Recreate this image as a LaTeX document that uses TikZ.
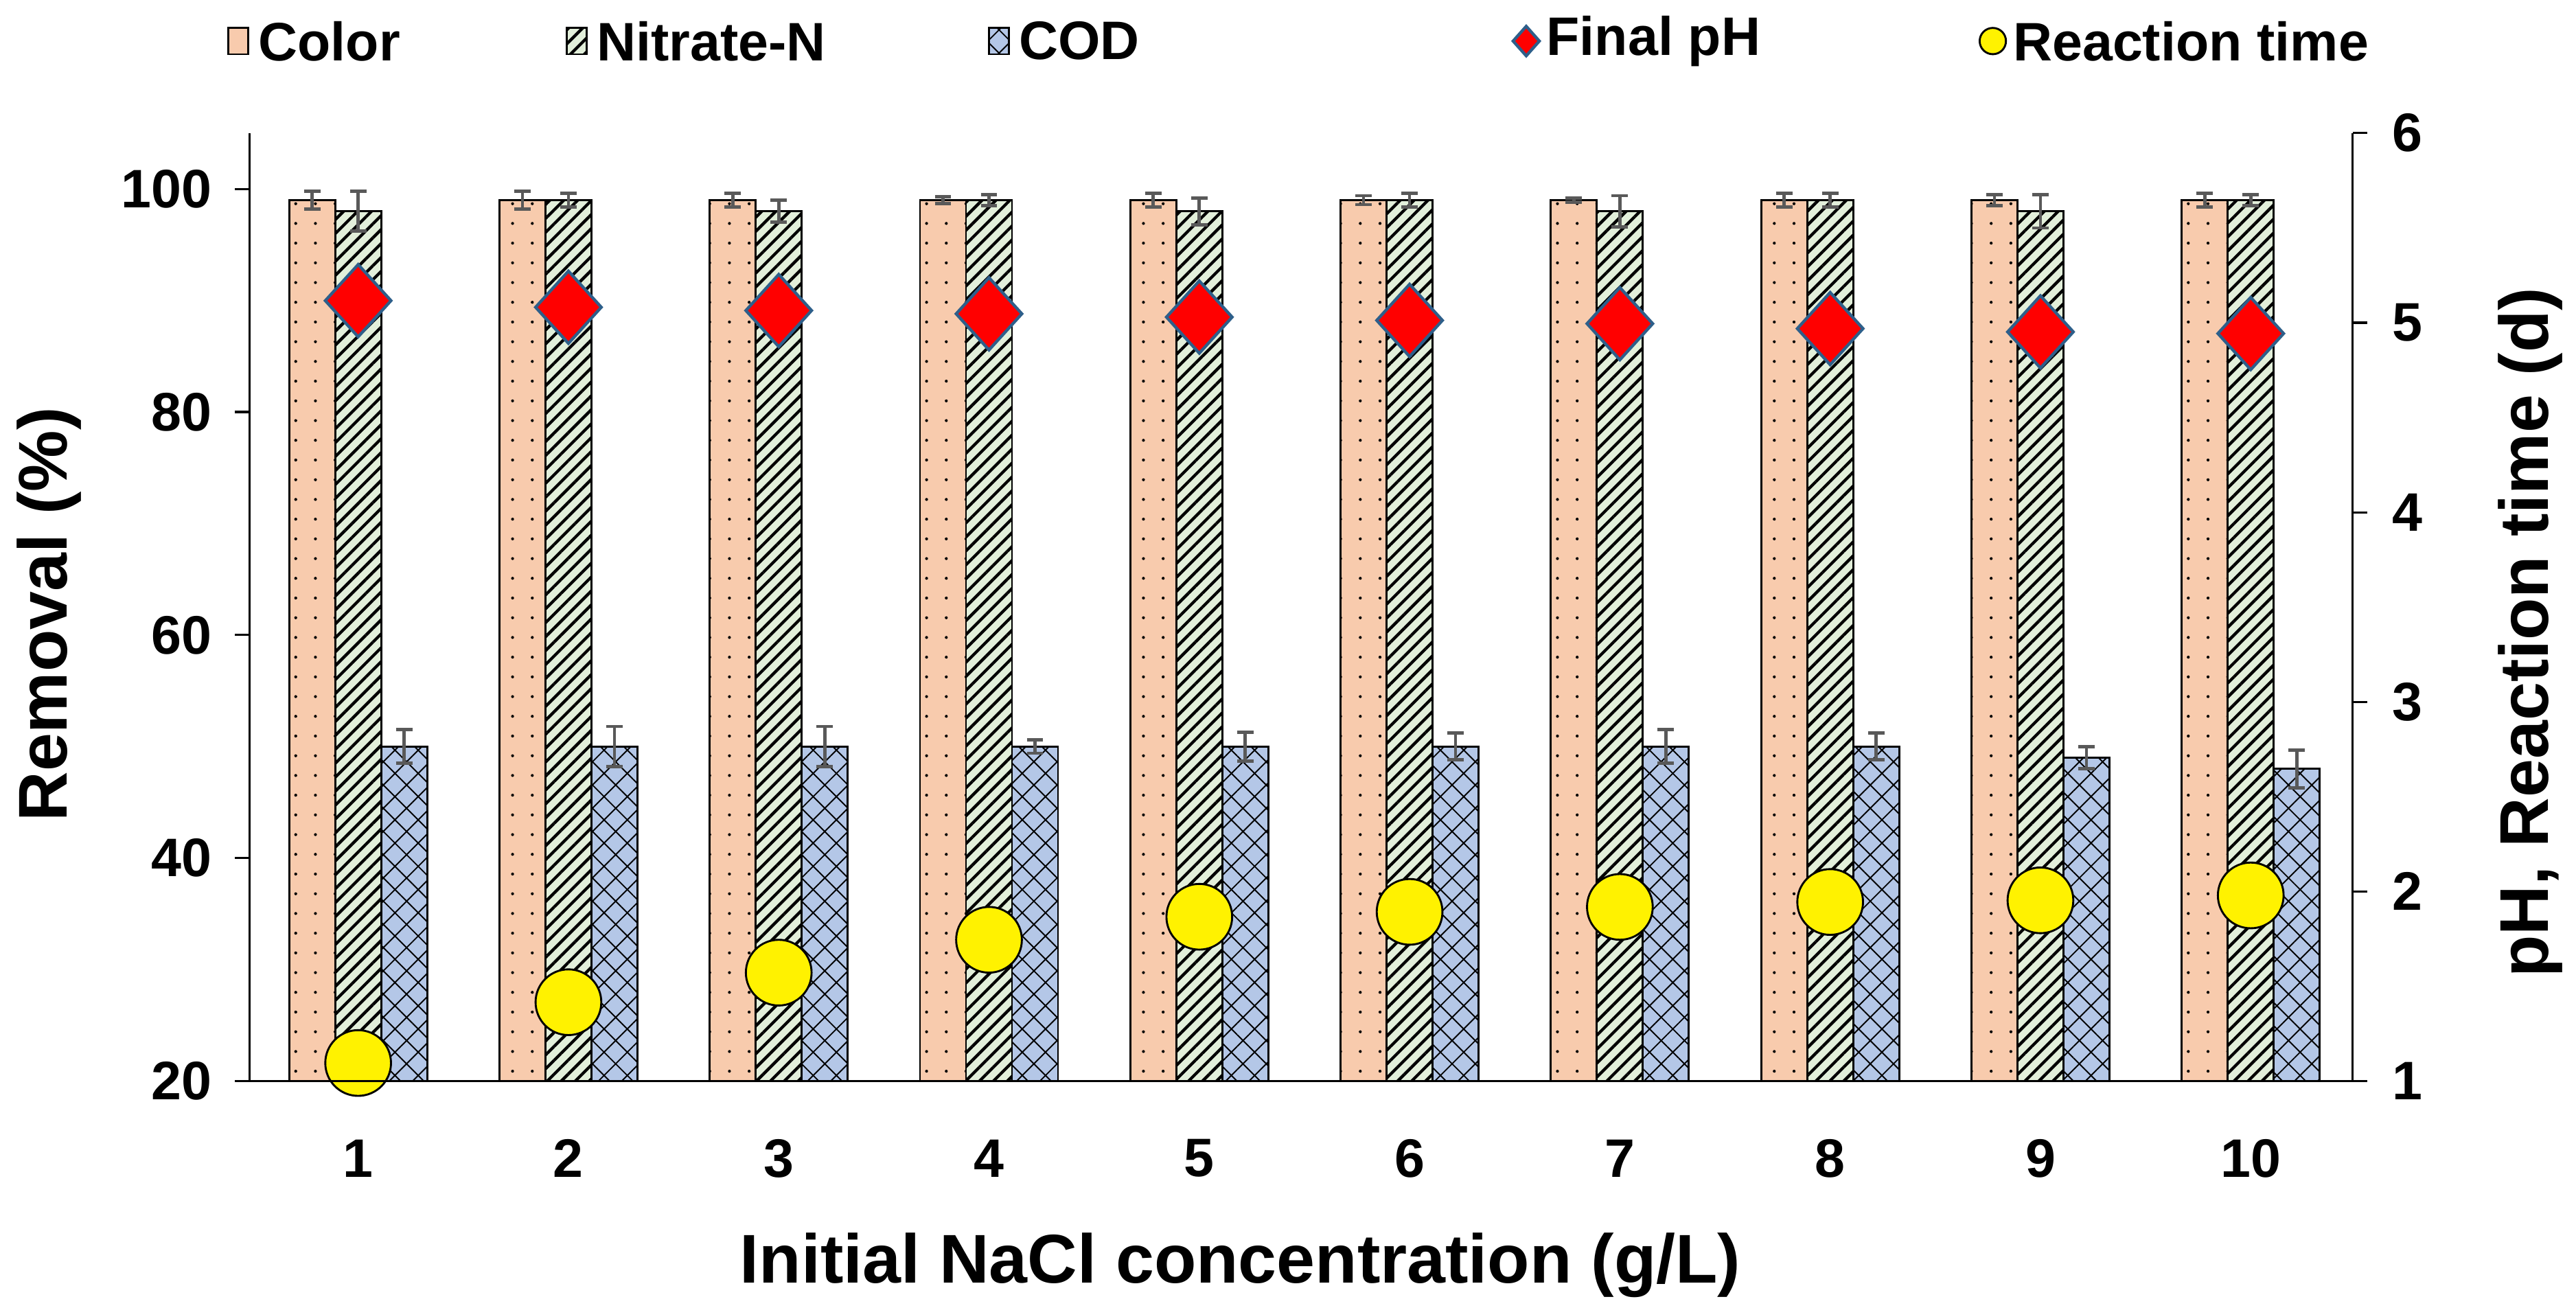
\documentclass[tikz,border=0pt]{standalone}
\usepackage{fontspec}
\setmainfont{Liberation Sans}
\usetikzlibrary{patterns.meta}
\definecolor{cC}{HTML}{F8CBAD}
\definecolor{cN}{HTML}{E2EFDA}
\definecolor{cD}{HTML}{B4C7E7}
\definecolor{eb}{HTML}{595959}
\definecolor{dia}{HTML}{2E5F8A}
\begin{document}
\begin{tikzpicture}[x=0.5pt,y=-0.5pt,
  bar/.style={draw=black,line width=0.6pt},
  err/.style={draw=eb,line width=1pt},
  tick/.style={font=\bfseries\fontsize{16.5}{18}\selectfont},
  title/.style={font=\bfseries\fontsize{21}{24}\selectfont},
  leg/.style={font=\bfseries\fontsize{16.5}{19}\selectfont,anchor=west,inner sep=0pt},
  phm/.style={fill=red,draw=dia,line width=0.9pt},
  rtm/.style={fill=yellow,draw=black,line width=0.6pt}]
\useasboundingbox (0,0) rectangle (1568,796);
\newcommand{\yl}[1]{658-(#1-20)*6.7875}
% bars
\foreach \i/\c/\ce/\n/\ne/\d/\de/\ph/\rt in {
 1/99/0.8/98/1.8/50/1.5/183/647, 2/99/0.8/99/0.6/50/1.8/187/610,
 3/99/0.6/98/1.0/50/1.8/189/592, 4/99/0.3/99/0.5/50/0.6/191/572,
 5/99/0.6/98/1.2/50/1.3/193/558, 6/99/0.4/99/0.6/50/1.2/195/555,
 7/99/0.2/98/1.4/50/1.5/197/552, 8/99/0.6/99/0.6/50/1.2/200/549,
 9/99/0.5/98/1.5/49/1.0/202/548, 10/99/0.6/99/0.5/48/1.7/203/545}{
 \pgfmathsetmacro{\xc}{218+128*(\i-1)}
 \pgfmathsetmacro{\yc}{\yl{\c}}
 \pgfmathsetmacro{\yn}{\yl{\n}}
 \pgfmathsetmacro{\yd}{\yl{\d}}
 \fill[cC] (\xc-42,658) rectangle (\xc-14,\yc);
 \fill[pattern={Dots[distance=6pt,radius=0.45pt]}] (\xc-42,658) rectangle (\xc-14,\yc);
 \draw[bar] (\xc-42,658) rectangle (\xc-14,\yc);
 \fill[cN] (\xc-14,658) rectangle (\xc+14,\yn);
 \fill[pattern={Lines[angle=45,distance=3pt,line width=0.9pt]}] (\xc-14,658) rectangle (\xc+14,\yn);
 \draw[bar] (\xc-14,658) rectangle (\xc+14,\yn);
 \fill[cD] (\xc+14,658) rectangle (\xc+42,\yd);
 \fill[pattern={Hatch[angle=45,distance=5pt,line width=0.4pt]}] (\xc+14,658) rectangle (\xc+42,\yd);
 \draw[bar] (\xc+14,658) rectangle (\xc+42,\yd);
 \draw[err] (\xc-28,{\yl{\c+\ce}}) -- (\xc-28,{\yl{\c-\ce}})
   (\xc-33,{\yl{\c+\ce}}) -- (\xc-23,{\yl{\c+\ce}}) (\xc-33,{\yl{\c-\ce}}) -- (\xc-23,{\yl{\c-\ce}});
 \draw[err] (\xc,{\yl{\n+\ne}}) -- (\xc,{\yl{\n-\ne}})
   (\xc-5,{\yl{\n+\ne}}) -- (\xc+5,{\yl{\n+\ne}}) (\xc-5,{\yl{\n-\ne}}) -- (\xc+5,{\yl{\n-\ne}});
 \draw[err] (\xc+28,{\yl{\d+\de}}) -- (\xc+28,{\yl{\d-\de}})
   (\xc+23,{\yl{\d+\de}}) -- (\xc+33,{\yl{\d+\de}}) (\xc+23,{\yl{\d-\de}}) -- (\xc+33,{\yl{\d-\de}});
 \draw[phm] (\xc,\ph-22) -- (\xc+20,\ph) -- (\xc,\ph+22) -- (\xc-20,\ph) -- cycle;
 \node[rtm,circle,minimum size=20pt,inner sep=0pt] (rt\i) at (\xc,\rt) {};
 \node[tick] (xl\i) at (\xc,705) {\i};
}
% axes
\draw[line width=0.65pt] (152,81) -- (152,658) -- (1432,658) -- (1432,81);
\foreach \v in {20,40,...,100}{
 \pgfmathsetmacro{\yy}{\yl{\v}}
 \draw[line width=0.65pt] (143,\yy) -- (152,\yy);
 \node[tick,anchor=east] (yl\v) at (136,\yy) {\v};}
\foreach \v in {1,...,6}{
 \pgfmathsetmacro{\yy}{658-(\v-1)*115.4}
 \draw[line width=0.65pt] (1432,\yy) -- (1441,\yy);
 \node[tick,anchor=west] (yr\v) at (1449,\yy) {\v};}
\node[title,rotate=90] (tl) at (30,374) {Removal (\%)};
\node[title,rotate=90] (tr) at (1540,385) {pH, Reaction time (d)};
\node[title] (tb) at (755,770) {Initial NaCl concentration (g/L)};
% legend
\fill[cC] (139,17) rectangle (151,33); \draw[bar] (139,17) rectangle (151,33);
\node[leg] (l1) at (157,25) {Color};
\fill[cN] (345,17) rectangle (357,33);
\fill[pattern={Lines[angle=45,distance=3pt,line width=0.9pt]}] (345,17) rectangle (357,33);
\draw[bar] (345,17) rectangle (357,33);
\node[leg] (l2) at (363,25) {Nitrate-N};
\fill[cD] (602,17) rectangle (614,33);
\fill[pattern={Hatch[angle=45,distance=5pt,line width=0.4pt]}] (602,17) rectangle (614,33);
\draw[bar] (602,17) rectangle (614,33);
\node[leg] (l3) at (620,25) {COD};
\draw[phm] (929,16) -- (937,25) -- (929,34) -- (921,25) -- cycle;
\node[leg] (l4) at (941,25) {Final pH};
\node[rtm,circle,minimum size=8pt,inner sep=0pt] (l5m) at (1213,25) {};
\node[leg] (l5) at (1225,25) {Reaction time};
\end{tikzpicture}
\end{document}
